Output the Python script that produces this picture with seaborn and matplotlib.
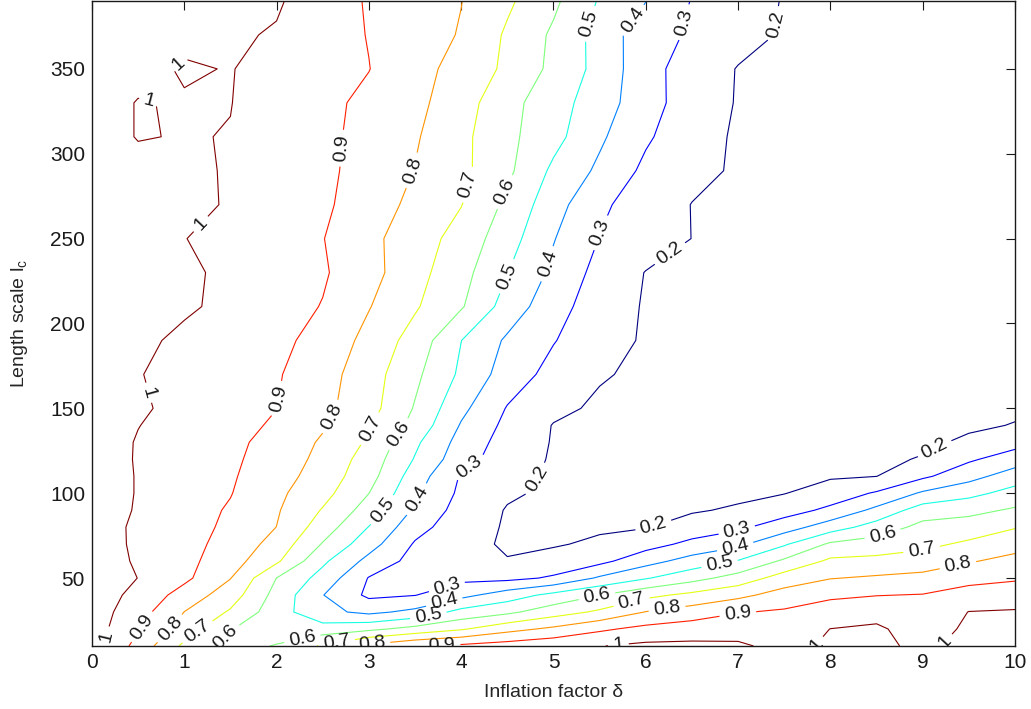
import numpy as np
import matplotlib
matplotlib.use("Agg")
import matplotlib.pyplot as plt
import seaborn as sns

# Grid of the experiment: inflation factor (columns) and length scale (rows)
delta_values = [0.0, 0.5, 1.0, 1.5, 2.0, 2.5, 3.0, 3.5, 4.0, 4.5, 5.0,
                5.5, 6.0, 6.5, 7.0, 7.5, 8.0, 8.5, 9.0, 9.5, 10.0]
lc_values = [10, 20, 30, 40, 50, 60, 70, 80, 90, 100, 110, 120, 130, 140,
             150, 170, 190, 210, 230, 250, 270, 290, 310, 330, 350, 370, 390]

# Relative error for each length scale, one value per inflation factor
err_lc10 = [1.05, 0.863, 0.679, 0.570, 0.605, 0.713, 0.825, 0.890, 0.920, 0.946, 0.972, 0.997, 1.020, 1.020, 1.010, 0.980, 1.010, 1.020, 0.980, 1.030, 1.040]
err_lc20 = [1.05, 0.909, 0.755, 0.603, 0.560, 0.541, 0.578, 0.633, 0.689, 0.767, 0.820, 0.883, 0.928, 0.951, 0.973, 0.947, 1.001, 1.015, 0.955, 1.016, 1.024]
err_lc30 = [1.05, 0.943, 0.799, 0.688, 0.544, 0.426, 0.377, 0.425, 0.532, 0.579, 0.654, 0.717, 0.803, 0.847, 0.894, 0.913, 0.945, 0.966, 0.929, 1.002, 1.007]
err_lc40 = [1.05, 0.974, 0.859, 0.749, 0.566, 0.403, 0.280, 0.297, 0.370, 0.450, 0.528, 0.598, 0.674, 0.724, 0.775, 0.840, 0.883, 0.897, 0.904, 0.941, 0.959]
err_lc50 = [1.05, 0.999, 0.922, 0.803, 0.599, 0.463, 0.295, 0.270, 0.276, 0.275, 0.312, 0.414, 0.492, 0.565, 0.640, 0.745, 0.796, 0.813, 0.830, 0.868, 0.887]
err_lc60 = [1.05, 0.989, 0.929, 0.843, 0.717, 0.519, 0.370, 0.265, 0.230, 0.204, 0.241, 0.273, 0.363, 0.440, 0.506, 0.617, 0.719, 0.728, 0.744, 0.792, 0.829]
err_lc70 = [1.05, 0.983, 0.932, 0.867, 0.763, 0.593, 0.441, 0.290, 0.228, 0.189, 0.190, 0.219, 0.262, 0.325, 0.378, 0.488, 0.616, 0.643, 0.676, 0.717, 0.764]
err_lc80 = [1.05, 0.982, 0.936, 0.882, 0.799, 0.651, 0.497, 0.336, 0.242, 0.191, 0.171, 0.185, 0.195, 0.244, 0.280, 0.354, 0.452, 0.544, 0.629, 0.648, 0.694]
err_lc90 = [1.05, 0.992, 0.943, 0.890, 0.810, 0.693, 0.557, 0.384, 0.260, 0.194, 0.174, 0.165, 0.170, 0.190, 0.213, 0.258, 0.322, 0.425, 0.550, 0.572, 0.613]
err_lc100 = [1.05, 0.995, 0.949, 0.904, 0.821, 0.733, 0.601, 0.419, 0.279, 0.212, 0.184, 0.164, 0.160, 0.160, 0.178, 0.197, 0.245, 0.311, 0.414, 0.471, 0.536]
err_lc110 = [1.05, 0.995, 0.953, 0.911, 0.841, 0.756, 0.638, 0.452, 0.291, 0.227, 0.188, 0.168, 0.160, 0.160, 0.160, 0.170, 0.190, 0.199, 0.282, 0.364, 0.451]
err_lc120 = [1.05, 0.993, 0.955, 0.917, 0.856, 0.773, 0.657, 0.493, 0.341, 0.245, 0.191, 0.171, 0.160, 0.160, 0.160, 0.160, 0.170, 0.180, 0.207, 0.286, 0.349]
err_lc130 = [1.05, 0.994, 0.958, 0.922, 0.868, 0.787, 0.686, 0.519, 0.364, 0.258, 0.194, 0.174, 0.160, 0.160, 0.160, 0.160, 0.160, 0.165, 0.180, 0.217, 0.265]
err_lc140 = [1.05, 1.002, 0.966, 0.930, 0.888, 0.811, 0.709, 0.568, 0.392, 0.275, 0.196, 0.176, 0.160, 0.160, 0.160, 0.160, 0.160, 0.160, 0.165, 0.185, 0.204]
err_lc150 = [1.05, 1.012, 0.975, 0.938, 0.901, 0.826, 0.738, 0.592, 0.424, 0.294, 0.222, 0.185, 0.171, 0.160, 0.160, 0.160, 0.160, 0.160, 0.160, 0.170, 0.185]
err_lc170 = [1.05, 1.004, 0.971, 0.940, 0.909, 0.840, 0.745, 0.622, 0.482, 0.354, 0.267, 0.208, 0.183, 0.163, 0.160, 0.160, 0.160, 0.160, 0.160, 0.160, 0.160]
err_lc190 = [1.05, 1.017, 0.984, 0.953, 0.922, 0.870, 0.769, 0.661, 0.501, 0.385, 0.305, 0.236, 0.190, 0.170, 0.160, 0.160, 0.160, 0.160, 0.160, 0.160, 0.160]
err_lc210 = [1.05, 1.031, 1.011, 0.982, 0.940, 0.896, 0.805, 0.711, 0.610, 0.458, 0.338, 0.249, 0.192, 0.172, 0.160, 0.160, 0.160, 0.160, 0.160, 0.160, 0.160]
err_lc230 = [1.05, 1.031, 1.012, 0.986, 0.948, 0.911, 0.835, 0.734, 0.635, 0.503, 0.378, 0.267, 0.197, 0.177, 0.160, 0.160, 0.160, 0.160, 0.160, 0.160, 0.160]
err_lc250 = [1.05, 1.026, 1.002, 0.969, 0.936, 0.903, 0.825, 0.748, 0.663, 0.543, 0.405, 0.297, 0.249, 0.199, 0.180, 0.160, 0.160, 0.160, 0.160, 0.160, 0.160]
err_lc270 = [1.05, 1.033, 1.015, 0.995, 0.956, 0.916, 0.852, 0.774, 0.703, 0.578, 0.440, 0.318, 0.252, 0.198, 0.178, 0.160, 0.160, 0.160, 0.160, 0.160, 0.160]
err_lc290 = [1.05, 1.032, 1.015, 0.994, 0.957, 0.919, 0.867, 0.797, 0.725, 0.621, 0.480, 0.381, 0.278, 0.224, 0.189, 0.169, 0.160, 0.160, 0.160, 0.160, 0.160]
err_lc310 = [1.05, 0.995, 1.005, 0.997, 0.959, 0.921, 0.872, 0.810, 0.725, 0.625, 0.532, 0.416, 0.314, 0.235, 0.189, 0.169, 0.160, 0.160, 0.160, 0.160, 0.160]
err_lc330 = [1.05, 0.995, 1.008, 1.002, 0.956, 0.922, 0.880, 0.826, 0.743, 0.633, 0.542, 0.448, 0.339, 0.251, 0.194, 0.174, 0.160, 0.160, 0.160, 0.160, 0.160]
err_lc350 = [1.05, 1.032, 0.990, 1.004, 0.964, 0.933, 0.902, 0.836, 0.764, 0.681, 0.576, 0.468, 0.336, 0.253, 0.196, 0.176, 0.160, 0.160, 0.160, 0.160, 0.160]
err_lc370 = [1.05, 1.037, 1.024, 1.011, 0.993, 0.945, 0.896, 0.847, 0.793, 0.686, 0.584, 0.463, 0.340, 0.288, 0.231, 0.191, 0.171, 0.160, 0.160, 0.160, 0.160]
err_lc390 = [1.05, 1.038, 1.026, 1.015, 1.010, 0.951, 0.891, 0.846, 0.802, 0.717, 0.620, 0.491, 0.402, 0.295, 0.241, 0.195, 0.175, 0.160, 0.160, 0.160, 0.160]

contour_levels = [0.2, 0.3, 0.4, 0.5, 0.6, 0.7, 0.8, 0.9, 1.0]
x_ticks = [0, 1, 2, 3, 4, 5, 6, 7, 8, 9, 10]
y_ticks = [50, 100, 150, 200, 250, 300, 350]

# Where the inline level labels sit (inflation factor, length scale)
label_spots = [
    (0.91, 355), (0.63, 333), (1.25, 255), (0.60, 159), (0.20, 15),
    (5.70, 12), (7.80, 13), (9.19, 15),
    (2.77, 303), (2.07, 155), (0.55, 21), (3.79, 12), (7.00, 28),
    (3.48, 290), (2.63, 144), (0.85, 20), (3.03, 12), (6.23, 32), (9.38, 58),
    (4.12, 281), (3.01, 138), (1.12, 20), (2.65, 12), (5.85, 35), (8.99, 66),
    (4.53, 276), (3.34, 134), (1.41, 17), (2.28, 14), (5.48, 37), (8.57, 75),
    (5.42, 376), (4.53, 227), (3.17, 89), (3.64, 29), (6.80, 58),
    (5.83, 380), (4.94, 235), (3.53, 96), (3.82, 35), (6.97, 68),
    (6.45, 377), (5.53, 253), (4.06, 118), (3.86, 42), (6.99, 77),
    (7.31, 377), (6.29, 239), (4.72, 112), (6.10, 78), (9.15, 124),
]

error_grid = np.array([
    err_lc10, err_lc20, err_lc30, err_lc40, err_lc50, err_lc60, err_lc70,
    err_lc80, err_lc90, err_lc100, err_lc110, err_lc120, err_lc130,
    err_lc140, err_lc150, err_lc170, err_lc190, err_lc210, err_lc230,
    err_lc250, err_lc270, err_lc290, err_lc310, err_lc330, err_lc350,
    err_lc370, err_lc390,
])

sns.set_theme(style="white")
plt.rcParams["font.family"] = ["Liberation Sans", "DejaVu Sans"]
plt.rcParams["mathtext.default"] = "regular"

fig = plt.figure(figsize=(10.31, 7.09), dpi=100)
ax = fig.add_axes([0.0892, 0.0889, 0.8953, 0.9097])

line_colors = plt.get_cmap("jet")(np.linspace(0.0, 1.0, len(contour_levels)))
cs = ax.contour(delta_values, lc_values, error_grid, levels=contour_levels,
                colors=line_colors, linewidths=0.8)
ax.clabel(cs, inline=True, fmt="%g", fontsize=14, colors="k",
          manual=label_spots, inline_spacing=5)

ax.set_xlim(0, 10)
ax.set_ylim(10, 390)
ax.set_xticks(x_ticks)
ax.set_yticks(y_ticks)
ax.tick_params(direction="in", top=True, right=True, length=6.5, width=0.8,
               labelsize=15, pad=5, colors="k")
for side in ax.spines.values():
    side.set_visible(True)
    side.set_color("k")
    side.set_linewidth(1.0)

ax.set_xlabel("Inflation factor δ", fontsize=14, labelpad=9)
ax.set_ylabel("Length scale l$_c$", fontsize=14, labelpad=14)

fig.savefig("out.png", dpi=100)
